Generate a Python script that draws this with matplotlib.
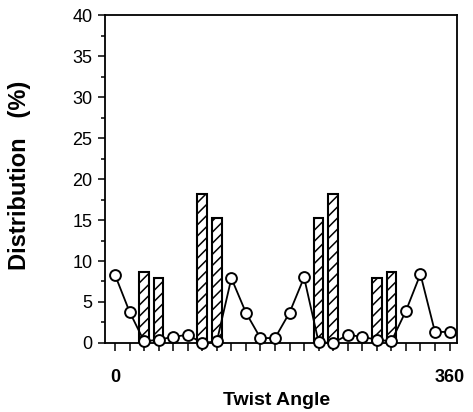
import numpy as np
import matplotlib.pyplot as plt

plt.rcParams['font.family'] = ['Liberation Sans', 'DejaVu Sans']
plt.rcParams['hatch.linewidth'] = 1.1

# twist angle positions (24 steps from 0 to 360)
pos = list(range(24))
circle_vals = [8.3, 3.8, 0.2, 0.4, 0.75, 1.0, 0.0, 0.2, 7.9, 3.7, 0.6, 0.6,
               3.7, 8.0, 0.1, 0.0, 1.0, 0.75, 0.4, 0.2, 3.9, 8.4, 1.35, 1.35]

bar_pos = [2, 3, 6, 7, 14, 15, 18, 19]
bar_vals = [8.7, 7.9, 18.2, 15.3, 15.3, 18.2, 7.9, 8.7]

xtick_labels = ['0'] + [''] * 22 + ['360']

fig = plt.figure(figsize=(4.73, 4.12), dpi=100)
ax = fig.add_axes([0.222, 0.1675, 0.744, 0.796])

ax.bar(bar_pos, bar_vals, width=0.66, color='white', edgecolor='black',
       linewidth=1.5, hatch='///', zorder=2)
ax.plot(pos, circle_vals, '-o', color='black', linewidth=1.3,
        markersize=7.8, markerfacecolor='white', markeredgewidth=1.4,
        clip_on=False, zorder=3)

ax.set_xlim(-0.69, 23.51)
ax.set_ylim(0, 40)
ax.set_yticks(np.arange(0, 41, 5))
ax.set_yticks(np.arange(0, 40, 2.5), minor=True)
ax.set_xticks(pos)
ax.set_xticklabels(xtick_labels, fontweight='bold')
ax.tick_params(axis='x', which='major', length=6, width=1.1, direction='out',
               pad=13, labelsize=13)
ax.tick_params(axis='y', which='major', length=5, width=1.1, labelsize=13,
               pad=4)
ax.tick_params(axis='y', which='minor', length=3, width=1.1)
for s in ax.spines.values():
    s.set_linewidth(1.3)

ax.set_xlabel('Twist Angle', fontsize=14, fontweight='bold', va='center')
ax.xaxis.set_label_coords(0.488, -0.174)
ax.set_ylabel('Distribution   (%)', fontsize=17, fontweight='bold', va='center')
ax.yaxis.set_label_coords(-0.244, 0.51)

fig.savefig('out.png', dpi=100)
